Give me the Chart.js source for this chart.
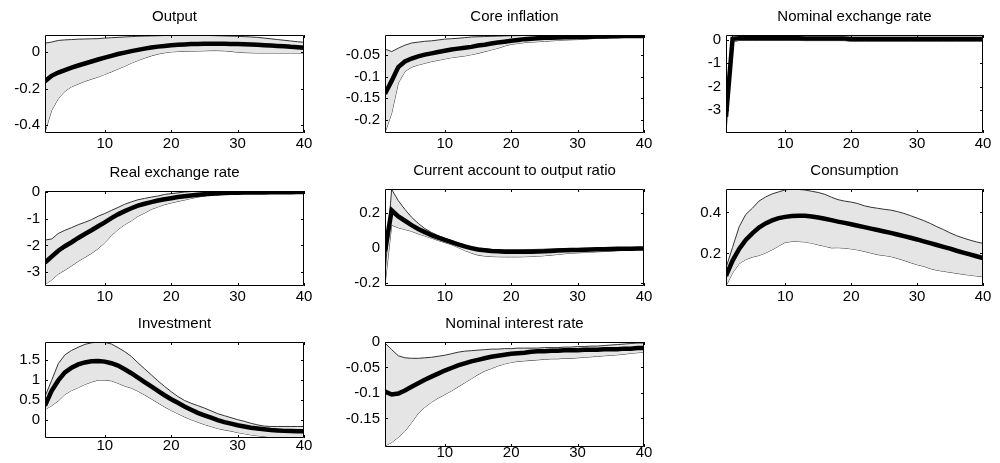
<!DOCTYPE html>
<html><head><meta charset="utf-8">
<script src="https://cdn.jsdelivr.net/npm/chart.js@4.4.1/dist/chart.umd.min.js"></script>
<style>
html,body{margin:0;padding:0;background:#fff;width:1000px;height:463px;overflow:hidden;position:relative;}
.p{position:absolute;}
</style></head><body>
<script>
// ---------- data ----------
const periods = [1,2,3,4,5,6,7,8,9,10,11,12,13,14,15,16,17,18,19,20,21,22,23,24,25,26,27,28,29,30,31,32,33,34,35,36,37,38,39,40];
const xTicks = [10,20,30,40];

const titles = ["Output","Core inflation","Nominal exchange rate","Real exchange rate","Current account to output ratio","Consumption","Investment","Nominal interest rate"];

const outputMedian = [-0.16,-0.13,-0.112,-0.098,-0.085,-0.073,-0.062,-0.051,-0.04,-0.03,-0.02,-0.01,-0.002,0.006,0.013,0.02,0.026,0.031,0.035,0.038,0.041,0.043,0.045,0.046,0.047,0.047,0.047,0.047,0.046,0.045,0.044,0.043,0.041,0.039,0.037,0.035,0.033,0.03,0.028,0.025];
const outputUpper = [0.05,0.056,0.065,0.068,0.07,0.072,0.073,0.074,0.075,0.078,0.08,0.082,0.084,0.086,0.088,0.089,0.09,0.091,0.092,0.092,0.093,0.093,0.093,0.093,0.093,0.092,0.091,0.09,0.089,0.088,0.086,0.084,0.082,0.078,0.074,0.07,0.066,0.062,0.058,0.055];
const outputLower = [-0.44,-0.32,-0.255,-0.215,-0.19,-0.175,-0.16,-0.148,-0.136,-0.122,-0.108,-0.092,-0.077,-0.06,-0.045,-0.032,-0.02,-0.01,-0.003,0.002,0.004,0.005,0.006,0.007,0.008,0.009,0.009,0.008,0.005,0.0,-0.002,-0.003,-0.004,-0.004,-0.004,-0.004,-0.004,-0.004,-0.004,-0.004];
const outputTicks = [-0.4,-0.2,0];

const coreMedian = [-0.14,-0.11,-0.078,-0.065,-0.058,-0.053,-0.049,-0.046,-0.043,-0.04,-0.037,-0.035,-0.033,-0.031,-0.028,-0.026,-0.023,-0.021,-0.019,-0.017,-0.015,-0.013,-0.012,-0.011,-0.01,-0.0095,-0.009,-0.0088,-0.0085,-0.008,-0.0078,-0.0075,-0.007,-0.0068,-0.0065,-0.0063,-0.006,-0.006,-0.0058,-0.0057];
const coreUpper = [-0.036,-0.042,-0.034,-0.027,-0.022,-0.02,-0.018,-0.017,-0.015,-0.013,-0.012,-0.011,-0.0095,-0.008,-0.0075,-0.007,-0.0065,-0.006,-0.0055,-0.005,-0.0048,-0.0045,-0.0042,-0.004,-0.0038,-0.0036,-0.0035,-0.0035,-0.0034,-0.0034,-0.0034,-0.0034,-0.0034,-0.0034,-0.0034,-0.0034,-0.0034,-0.0034,-0.0034,-0.0034];
const coreLower = [-0.23,-0.185,-0.115,-0.088,-0.078,-0.073,-0.069,-0.065,-0.062,-0.059,-0.056,-0.054,-0.052,-0.049,-0.046,-0.042,-0.038,-0.034,-0.029,-0.025,-0.023,-0.021,-0.02,-0.019,-0.018,-0.017,-0.016,-0.015,-0.0145,-0.014,-0.013,-0.012,-0.011,-0.0105,-0.01,-0.0095,-0.009,-0.0085,-0.008,-0.0075];
const coreTicks = [-0.2,-0.15,-0.1,-0.05];

const nerMedian = [-3.3,0.05,0.07,0.07,0.07,0.07,0.07,0.07,0.07,0.07,0.07,0.07,0.06,0.06,0.06,0.06,0.06,0.06,0.06,0.04,0.04,0.04,0.04,0.04,0.04,0.04,0.04,0.04,0.04,0.04,0.04,0.04,0.04,0.04,0.04,0.04,0.04,0.04,0.04,0.04];
const nerUpper = [-2.5,0.19,0.19,0.19,0.19,0.19,0.19,0.19,0.19,0.19,0.19,0.19,0.19,0.19,0.19,0.19,0.19,0.19,0.19,0.19,0.19,0.19,0.19,0.19,0.19,0.19,0.19,0.19,0.19,0.19,0.19,0.19,0.19,0.19,0.19,0.19,0.19,0.19,0.19,0.19];
const nerLower = [-3.99,-0.1,-0.02,-0.02,-0.02,-0.02,-0.02,-0.02,-0.02,-0.02,-0.02,-0.02,-0.03,-0.03,-0.03,-0.03,-0.03,-0.03,-0.03,-0.06,-0.06,-0.06,-0.06,-0.06,-0.06,-0.06,-0.06,-0.06,-0.06,-0.06,-0.06,-0.06,-0.06,-0.06,-0.06,-0.06,-0.06,-0.06,-0.06,-0.06];
const nerTicks = [-3,-2,-1,0];

const rerMedian = [-2.65,-2.42,-2.2,-2.03,-1.88,-1.72,-1.57,-1.43,-1.28,-1.13,-0.97,-0.83,-0.71,-0.6,-0.5,-0.43,-0.37,-0.31,-0.26,-0.22,-0.18,-0.15,-0.12,-0.09,-0.07,-0.05,-0.04,-0.03,-0.02,-0.015,-0.01,-0.008,-0.005,-0.003,0,0.002,0.004,0.006,0.008,0.01];
const rerUpper = [-1.8,-1.76,-1.55,-1.43,-1.33,-1.22,-1.13,-1.03,-0.9,-0.8,-0.68,-0.57,-0.45,-0.36,-0.28,-0.23,-0.18,-0.14,-0.08,-0.05,-0.02,0.01,0.03,0.04,0.045,0.05,0.05,0.05,0.05,0.05,0.05,0.05,0.05,0.05,0.05,0.05,0.05,0.05,0.05,0.05];
const rerLower = [-3.47,-3.3,-3.08,-2.93,-2.77,-2.6,-2.45,-2.3,-2.12,-1.9,-1.63,-1.4,-1.22,-1.07,-0.9,-0.78,-0.64,-0.55,-0.46,-0.4,-0.34,-0.29,-0.23,-0.18,-0.14,-0.09,-0.07,-0.05,-0.04,-0.035,-0.03,-0.03,-0.028,-0.026,-0.024,-0.022,-0.02,-0.016,-0.013,-0.01];
const rerTicks = [-3,-2,-1,0];

const caMedian = [-0.02,0.215,0.18,0.155,0.13,0.108,0.09,0.073,0.058,0.045,0.033,0.02,0.008,-0.002,-0.01,-0.014,-0.018,-0.02,-0.022,-0.023,-0.023,-0.023,-0.022,-0.021,-0.02,-0.018,-0.016,-0.014,-0.013,-0.012,-0.011,-0.01,-0.009,-0.008,-0.007,-0.006,-0.005,-0.005,-0.004,-0.004];
const caUpper = [-0.15,0.335,0.27,0.22,0.175,0.14,0.11,0.088,0.07,0.055,0.042,0.028,0.016,0.006,-0.002,-0.006,-0.009,-0.011,-0.012,-0.012,-0.012,-0.011,-0.01,-0.009,-0.008,-0.007,-0.006,-0.005,-0.004,-0.004,-0.003,-0.003,-0.002,-0.002,-0.001,-0.001,0,0,0,0];
const caLower = [-0.21,0.13,0.115,0.105,0.095,0.08,0.068,0.055,0.042,0.03,0.018,0.002,-0.015,-0.03,-0.042,-0.047,-0.05,-0.051,-0.052,-0.052,-0.052,-0.051,-0.05,-0.048,-0.045,-0.042,-0.038,-0.034,-0.031,-0.029,-0.027,-0.025,-0.023,-0.021,-0.019,-0.017,-0.015,-0.013,-0.011,-0.01];
const caTicks = [-0.2,0,0.2];

const consMedian = [0.09,0.165,0.222,0.266,0.298,0.326,0.346,0.361,0.372,0.378,0.382,0.384,0.383,0.38,0.375,0.369,0.362,0.355,0.349,0.342,0.335,0.328,0.321,0.314,0.307,0.3,0.292,0.284,0.276,0.268,0.259,0.25,0.241,0.232,0.223,0.213,0.204,0.195,0.186,0.177];
const consUpper = [0.13,0.23,0.33,0.39,0.42,0.455,0.475,0.49,0.5,0.51,0.513,0.512,0.509,0.503,0.497,0.488,0.474,0.462,0.455,0.45,0.443,0.432,0.425,0.42,0.415,0.411,0.404,0.395,0.384,0.372,0.36,0.346,0.33,0.316,0.3,0.286,0.275,0.265,0.256,0.249];
const consLower = [0.042,0.105,0.15,0.17,0.182,0.19,0.202,0.218,0.236,0.254,0.258,0.258,0.256,0.25,0.242,0.235,0.227,0.228,0.226,0.222,0.217,0.21,0.202,0.194,0.19,0.185,0.176,0.166,0.155,0.145,0.137,0.126,0.118,0.113,0.108,0.103,0.098,0.094,0.09,0.086];
const consTicks = [0.2,0.4];

const invMedian = [0.35,0.72,0.98,1.18,1.3,1.38,1.43,1.46,1.465,1.45,1.41,1.35,1.26,1.16,1.05,0.94,0.83,0.72,0.61,0.51,0.42,0.33,0.25,0.17,0.11,0.05,-0.01,-0.06,-0.1,-0.14,-0.17,-0.2,-0.22,-0.24,-0.26,-0.27,-0.28,-0.285,-0.29,-0.29];
const invUpper = [0.58,0.98,1.4,1.62,1.73,1.81,1.88,1.92,1.94,1.93,1.89,1.8,1.7,1.58,1.42,1.27,1.12,0.97,0.83,0.7,0.58,0.48,0.41,0.35,0.29,0.22,0.15,0.1,0.05,0.0,-0.04,-0.09,-0.13,-0.16,-0.17,-0.17,-0.17,-0.17,-0.17,-0.17];
const invLower = [0.25,0.35,0.47,0.63,0.73,0.8,0.88,0.94,0.99,0.99,0.97,0.91,0.84,0.79,0.71,0.62,0.52,0.42,0.32,0.23,0.15,0.07,0.0,-0.06,-0.12,-0.17,-0.22,-0.255,-0.285,-0.32,-0.35,-0.38,-0.4,-0.42,-0.44,-0.455,-0.458,-0.458,-0.458,-0.458];
const invTicks = [0,0.5,1,1.5];

const nirMedian = [-0.097,-0.103,-0.101,-0.095,-0.088,-0.081,-0.074,-0.068,-0.062,-0.056,-0.051,-0.046,-0.042,-0.038,-0.035,-0.032,-0.029,-0.027,-0.025,-0.023,-0.022,-0.021,-0.019,-0.018,-0.018,-0.017,-0.017,-0.016,-0.016,-0.016,-0.015,-0.015,-0.015,-0.014,-0.014,-0.014,-0.013,-0.013,-0.012,-0.012];
const nirUpper = [-0.002,-0.015,-0.027,-0.031,-0.032,-0.032,-0.031,-0.03,-0.028,-0.026,-0.023,-0.02,-0.018,-0.017,-0.016,-0.015,-0.014,-0.014,-0.013,-0.013,-0.012,-0.012,-0.012,-0.012,-0.011,-0.011,-0.011,-0.01,-0.01,-0.009,-0.009,-0.008,-0.008,-0.007,-0.006,-0.005,-0.004,-0.003,-0.002,-0.002];
const nirLower = [-0.204,-0.197,-0.187,-0.175,-0.158,-0.14,-0.128,-0.118,-0.11,-0.103,-0.096,-0.088,-0.08,-0.072,-0.064,-0.057,-0.052,-0.047,-0.043,-0.04,-0.038,-0.037,-0.036,-0.035,-0.034,-0.033,-0.033,-0.032,-0.032,-0.031,-0.03,-0.029,-0.028,-0.027,-0.026,-0.025,-0.024,-0.022,-0.021,-0.02];
const nirTicks = [-0.15,-0.1,-0.05,0];

// ---------- panel wiring (layout kept separate from data) ----------
const panels = [
  {title:titles[0], med:outputMedian, up:outputUpper, lo:outputLower, ticks:outputTicks, min:-0.445, max:0.095, box:{l:45,t:35,r:304,b:133}, xpad:2},
  {title:titles[1], med:coreMedian, up:coreUpper, lo:coreLower, ticks:coreTicks, min:-0.231, max:-0.0034, box:{l:385,t:35,r:644,b:133}, xpad:2},
  {title:titles[2], med:nerMedian, up:nerUpper, lo:nerLower, ticks:nerTicks, min:-3.99, max:0.21, box:{l:726,t:35,r:983,b:133}, xpad:2},
  {title:titles[3], med:rerMedian, up:rerUpper, lo:rerLower, ticks:rerTicks, min:-3.53, max:0.05, box:{l:45,t:191,r:304,b:286}, xpad:2},
  {title:titles[4], med:caMedian, up:caUpper, lo:caLower, ticks:caTicks, min:-0.219, max:0.337, box:{l:385,t:189,r:644,b:286}, xpad:2},
  {title:titles[5], med:consMedian, up:consUpper, lo:consLower, ticks:consTicks, min:0.041, max:0.514, box:{l:726,t:189,r:983,b:286}, xpad:2},
  {title:titles[6], med:invMedian, up:invUpper, lo:invLower, ticks:invTicks, min:-0.458, max:1.94, box:{l:45,t:342,r:304,b:438}, xpad:-1},
  {title:titles[7], med:nirMedian, up:nirUpper, lo:nirLower, ticks:nirTicks, min:-0.206, max:0, box:{l:385,t:342,r:644,b:447}, xpad:-3}
];

const FONT = '"Liberation Sans", Arial, Helvetica, sans-serif';
const PADL = 45, PADT = 35, PADR = 20, PADB = 26, TICKLEN = 3;

const boxPlugin = {
  id: 'matlabBox',
  afterDatasetsDraw(chart) {
    const {ctx, chartArea: a, scales: {x, y}} = chart;
    ctx.save();
    ctx.strokeStyle = '#000';
    ctx.lineWidth = 1;
    ctx.beginPath();
    ctx.rect(a.left + 0.5, a.top + 0.5, a.right - a.left - 1, a.bottom - a.top - 1);
    x.ticks.forEach(t => {
      const px = Math.round(x.getPixelForValue(t.value)) + 0.5;
      ctx.moveTo(px, a.bottom); ctx.lineTo(px, a.bottom - TICKLEN);
      ctx.moveTo(px, a.top); ctx.lineTo(px, a.top + TICKLEN);
    });
    y.ticks.forEach(t => {
      const py = Math.round(y.getPixelForValue(t.value)) + 0.5;
      ctx.moveTo(a.left, py); ctx.lineTo(a.left + TICKLEN, py);
      ctx.moveTo(a.right, py); ctx.lineTo(a.right - TICKLEN, py);
    });
    ctx.stroke();
    ctx.restore();
  }
};

const toXY = arr => periods.map((p, i) => ({x: p, y: arr[i]}));

panels.forEach(p => {
  const B = p.box;
  const div = document.createElement('div');
  div.className = 'p';
  div.style.left = (B.l - PADL) + 'px';
  div.style.top = (B.t - PADT) + 'px';
  div.style.width = (B.r - B.l + PADL + PADR) + 'px';
  div.style.height = (B.b - B.t + PADT + PADB) + 'px';
  const c = document.createElement('canvas');
  div.appendChild(c);
  document.body.appendChild(div);

  new Chart(c, {
    type: 'line',
    data: {
      datasets: [
        {data: toXY(p.med), borderColor: '#000', borderWidth: 4.5, pointRadius: 0, fill: false, clip: 0, borderCapStyle: 'butt'},
        {data: toXY(p.up), borderColor: '#333', borderWidth: 1, pointRadius: 0, fill: '+1', backgroundColor: '#e5e5e5', clip: 0},
        {data: toXY(p.lo), borderColor: '#333', borderWidth: 1, pointRadius: 0, fill: false, clip: 0}
      ]
    },
    options: {
      responsive: true,
      maintainAspectRatio: false,
      animation: false,
      events: [],
      layout: {padding: {left: 0, right: PADR, top: 0, bottom: 0}},
      plugins: {
        legend: {display: false},
        tooltip: {enabled: false},
        title: {
          display: true, text: p.title, fullSize: false, color: '#000',
          font: {family: FONT, size: 15, weight: 'normal', lineHeight: 1.2},
          padding: {top: 8, bottom: 9}
        }
      },
      scales: {
        x: {
          type: 'linear', min: 1, max: 40,
          afterFit: s => { s.height = PADB; },
          afterBuildTicks: s => { s.ticks = xTicks.map(v => ({value: v})); },
          grid: {display: false, drawTicks: false},
          border: {display: false},
          ticks: {autoSkip: false, maxRotation: 0, padding: p.xpad, color: '#000',
                  font: {family: FONT, size: 15}, callback: v => String(v)}
        },
        y: {
          type: 'linear', min: p.min, max: p.max,
          afterFit: s => { s.width = PADL; },
          afterBuildTicks: s => { s.ticks = p.ticks.map(v => ({value: v})); },
          grid: {display: false, drawTicks: false},
          border: {display: false},
          ticks: {autoSkip: false, padding: 5, color: '#000',
                  font: {family: FONT, size: 15}, callback: v => String(v)}
        }
      }
    },
    plugins: [boxPlugin]
  });
});
</script>
</body></html>
